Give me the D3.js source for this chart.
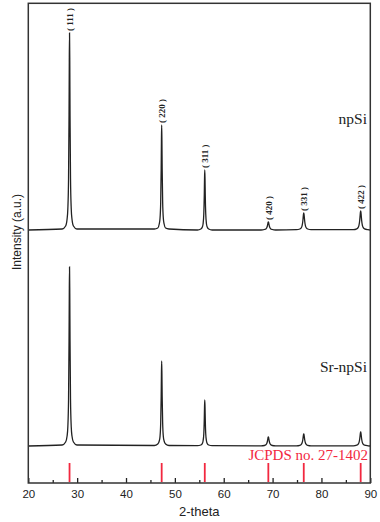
<!DOCTYPE html>
<html>
<head>
<meta charset="utf-8">
<script src="https://cdn.jsdelivr.net/npm/d3@7"></script>
<style>
  html, body { margin: 0; padding: 0; background: #fff; }
  svg { display: block; }
</style>
</head>
<body>
<div id="chart"></div>
<script>
// ---------- data ----------
const twoTheta = [
  20,
  26.94, 27.64, 27.94, 28.09, 28.24, 28.34, 28.39, 28.44, 28.49, 28.54, 28.64, 28.79, 28.94, 29.24, 29.94,
  45.80, 46.50, 46.80, 46.95, 47.10, 47.20, 47.25, 47.30, 47.35, 47.40, 47.50, 47.65, 47.80, 48.10, 48.80,
  54.62, 55.32, 55.62, 55.77, 55.92, 56.02, 56.07, 56.12, 56.17, 56.22, 56.32, 56.47, 56.62, 56.92, 57.62,
  67.63, 68.33, 68.63, 68.78, 68.93, 69.03, 69.08, 69.13, 69.18, 69.23, 69.33, 69.48, 69.63, 69.93, 70.63,
  74.88, 75.58, 75.88, 76.03, 76.18, 76.28, 76.33, 76.38, 76.43, 76.48, 76.58, 76.73, 76.88, 77.18, 77.88,
  86.53, 87.23, 87.53, 87.68, 87.83, 87.93, 87.98, 88.03, 88.08, 88.13, 88.23, 88.38, 88.53, 88.83, 89.53,
  90
];

const npSi = [
  253,
  254, 257, 264, 274, 305, 369, 421, 450, 421, 369, 305, 274, 264, 257, 254,
  254, 255, 259, 264, 281, 315, 342, 358, 342, 315, 281, 264, 259, 255, 254,
  253, 254, 256, 259, 269, 288, 304, 313, 304, 288, 269, 259, 256, 254, 253,
  253, 253.5, 254.1, 255, 257, 259.4, 260.5, 261, 260.5, 259.4, 257, 255, 254.1, 253.5, 253,
  253.3, 254, 255.3, 257.2, 261.5, 266.6, 269, 270, 269, 266.6, 261.5, 257.2, 255.3, 254, 253.3,
  253.3, 254.1, 255.6, 257.7, 262.5, 268.2, 270.9, 272, 270.9, 268.2, 262.5, 257.7, 255.6, 254.1, 253.3,
  253
];

const srNpSi = [
  37,
  38, 41, 47, 56, 84, 143, 189, 216, 189, 143, 84, 56, 47, 41, 38,
  37.5, 39, 42, 46, 60, 87, 109, 122, 109, 87, 60, 46, 42, 39, 37.5,
  37.3, 38, 39.5, 42, 49, 64, 76, 83, 76, 64, 49, 42, 39.5, 38, 37.3,
  37.2, 37.5, 38.2, 39.2, 41.5, 44.2, 45.5, 46, 45.5, 44.2, 41.5, 39.2, 38.2, 37.5, 37.2,
  37.2, 37.7, 38.7, 40, 43, 46.6, 48.3, 49, 48.3, 46.6, 43, 40, 38.7, 37.7, 37.2,
  37.2, 37.8, 38.9, 40.4, 44, 48.2, 50.2, 51, 50.2, 48.2, 44, 40.4, 38.9, 37.8, 37.2,
  37
];

const peakPositions = [28.44, 47.30, 56.12, 69.13, 76.38, 88.03];
const peakLabels = ["( 111 )", "( 220 )", "( 311 )", "( 420 )", "( 331 )", "( 422 )"];
const npSiPeakTops = [450, 358, 313, 261, 270, 272];
const jcpdsPositions = [28.44, 47.30, 56.12, 69.13, 76.38, 88.03];
const jcpdsLineHeight = [0, 20];

const xTicks = [20, 30, 40, 50, 60, 70, 80, 90];
const xMinorTicks = [25, 35, 45, 55, 65, 75, 85];

// ---------- layout ----------
const W = 380, H = 522;
const mLeft = 28.3, mRight = 370.3, mTop = 3.3, mBottom = 483;

const svg = d3.select("#chart").append("svg")
  .attr("width", W).attr("height", H);

const x = d3.scaleLinear().domain([20, 90]).range([mLeft, mRight]);
const y = d3.scaleLinear().domain([0, 480]).range([mBottom, mBottom - 480]);

const ink = "#222";
const red = "#f2283f";

// series curves
const line = d3.line()
  .x((d, i) => x(twoTheta[i]))
  .y(d => y(d))
  .curve(d3.curveMonotoneX);

svg.append("path").datum(npSi)
  .attr("d", line).attr("fill", "none")
  .attr("stroke", ink).attr("stroke-width", 1.3);

svg.append("path").datum(srNpSi)
  .attr("d", line).attr("fill", "none")
  .attr("stroke", ink).attr("stroke-width", 1.3);

// JCPDS reference lines
svg.append("g").selectAll("line").data(jcpdsPositions).join("line")
  .attr("x1", d => x(d)).attr("x2", d => x(d))
  .attr("y1", y(jcpdsLineHeight[0]) - 1).attr("y2", y(jcpdsLineHeight[1]))
  .attr("stroke", red).attr("stroke-width", 1.8);

svg.append("text")
  .attr("x", 368).attr("y", 460)
  .attr("text-anchor", "end")
  .attr("font-family", "Liberation Serif, Times New Roman, serif")
  .attr("font-size", 15)
  .attr("fill", red)
  .text("JCPDS no. 27-1402");

// peak labels
svg.append("g").selectAll("text").data(peakPositions).join("text")
  .attr("transform", (d, i) => `translate(${x(d) + 3.2},${y(npSiPeakTops[i]) - 2}) rotate(-90)`)
  .attr("text-anchor", "start")
  .attr("font-family", "Liberation Serif, Times New Roman, serif")
  .attr("font-weight", "bold")
  .attr("font-size", 9)
  .attr("fill", ink)
  .text((d, i) => peakLabels[i]);

// series names
svg.append("text")
  .attr("x", 367).attr("y", 124)
  .attr("text-anchor", "end")
  .attr("font-family", "Liberation Serif, Times New Roman, serif")
  .attr("font-size", 15.5).attr("fill", ink)
  .text("npSi");

svg.append("text")
  .attr("x", 367).attr("y", 372)
  .attr("text-anchor", "end")
  .attr("font-family", "Liberation Serif, Times New Roman, serif")
  .attr("font-size", 15.5).attr("fill", ink)
  .text("Sr-npSi");

// x axis
const xAxis = d3.axisBottom(x).tickValues(xTicks).tickSize(-5).tickPadding(7)
  .tickFormat(d3.format("d"));
const gx = svg.append("g").attr("transform", `translate(0,${mBottom})`).call(xAxis);
gx.select(".domain").remove();
gx.selectAll(".tick line").attr("stroke", ink).attr("stroke-width", 1.3);
gx.selectAll(".tick text")
  .attr("font-family", "Liberation Sans, Arial, sans-serif")
  .attr("font-size", 11.5).attr("fill", ink);

const gxm = svg.append("g").attr("transform", `translate(0,${mBottom})`)
  .call(d3.axisBottom(x).tickValues(xMinorTicks).tickSize(-3).tickFormat(""));
gxm.select(".domain").remove();
gxm.selectAll(".tick line").attr("stroke", ink).attr("stroke-width", 1.3);

// frame
svg.append("rect")
  .attr("x", mLeft).attr("y", mTop)
  .attr("width", mRight - mLeft).attr("height", mBottom - mTop)
  .attr("fill", "none").attr("stroke", "#333").attr("stroke-width", 1.5);

// axis titles
svg.append("text")
  .attr("x", (mLeft + mRight) / 2).attr("y", 516)
  .attr("text-anchor", "middle")
  .attr("font-family", "Liberation Sans, Arial, sans-serif")
  .attr("font-size", 13).attr("fill", ink)
  .text("2-theta");

svg.append("text")
  .attr("transform", "translate(21,232) rotate(-90)")
  .attr("text-anchor", "middle")
  .attr("font-family", "Liberation Sans, Arial, sans-serif")
  .attr("font-size", 12).attr("fill", ink)
  .text("Intensity (a.u.)");
</script>
</body>
</html>
